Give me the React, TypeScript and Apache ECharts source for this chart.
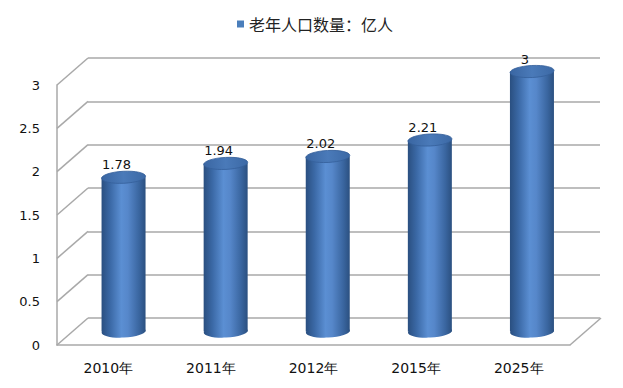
import React, { useEffect, useRef } from "react";
import * as echarts from "echarts";

const categories = ["2010年", "2011年", "2012年", "2015年", "2025年"];
const values = [1.78, 1.94, 2.02, 2.21, 3];
const seriesName = "老年人口数量：亿人";
const tickValues = [0, 0.5, 1, 1.5, 2, 2.5, 3];

const DX = 31;
const DY = -27;
const GRID_COLOR = "#a9a9a9";

export default function App() {
  const ref = useRef<HTMLDivElement>(null);
  useEffect(() => {
    if (!ref.current) return;
    const chart = echarts.init(ref.current, null, { renderer: "svg" });
    const bodyGrad = () =>
      new echarts.graphic.LinearGradient(0, 0, 1, 0, [
        { offset: 0, color: "#2a4f80" },
        { offset: 0.2, color: "#3b69a6" },
        { offset: 0.45, color: "#5b8fd3" },
        { offset: 0.6, color: "#5687ca" },
        { offset: 0.85, color: "#3a66a0" },
        { offset: 1, color: "#2b5080" },
      ]);
    const topGrad = () =>
      new echarts.graphic.LinearGradient(0, 0, 1, 0, [
        { offset: 0, color: "#3a66a2" },
        { offset: 0.5, color: "#4a7ab9" },
        { offset: 1, color: "#3c69a5" },
      ]);
    const option: any = {
      animation: false,
      legend: {
        top: 11,
        left: 232,
        data: [{ name: seriesName, icon: "rect" }],
        itemWidth: 7,
        itemHeight: 7,
        itemGap: 4,
        textStyle: { fontSize: 16, color: "#222", fontFamily: "Noto Sans CJK SC" },
      },
      grid: [
        { left: 57, right: 53, top: 85, bottom: 43 },
        { left: 88, right: 23, top: 58, bottom: 70 },
        { left: 72.5, right: 40, top: 71.5, bottom: 56.5 },
      ],
      xAxis: [
        {
          gridIndex: 0,
          type: "category",
          data: categories,
          axisLine: { show: true, lineStyle: { color: GRID_COLOR, width: 1.5 } },
          axisTick: { show: false },
          axisLabel: { color: "#111", fontSize: 14, margin: 16, fontFamily: "DejaVu Sans" },
        },
        {
          gridIndex: 1,
          type: "category",
          data: categories,
          show: false,
        },
        {
          gridIndex: 2,
          type: "category",
          data: categories,
          show: false,
        },
      ],
      yAxis: [
        {
          gridIndex: 0,
          type: "value",
          min: 0,
          max: 3,
          interval: 0.5,
          axisLine: { show: true, lineStyle: { color: GRID_COLOR, width: 1.5 } },
          axisTick: { show: false },
          splitLine: { show: false },
          axisLabel: { color: "#111", fontSize: 13, margin: 17, fontFamily: "DejaVu Sans" },
        },
        {
          gridIndex: 1,
          type: "value",
          min: 0,
          max: 3,
          interval: 0.5,
          axisLine: { show: false },
          axisTick: { show: false },
          axisLabel: { show: false },
          splitLine: { show: true, lineStyle: { color: GRID_COLOR, width: 1.5 } },
        },
        {
          gridIndex: 2,
          type: "value",
          min: 0,
          max: 3,
          interval: 0.5,
          show: false,
        },
      ],
      series: [
        {
          type: "custom",
          name: "diagonals",
          xAxisIndex: 0,
          yAxisIndex: 0,
          silent: true,
          z: 1,
          data: tickValues.map((v) => [0, v]),
          renderItem: (params: any, api: any) => {
            const cs = params.coordSys;
            const y = api.coord([0, api.value(1)])[1];
            const x0 = cs.x;
            const children: any[] = [
              {
                type: "line",
                shape: { x1: x0, y1: y, x2: x0 + DX, y2: y + DY },
                style: { stroke: GRID_COLOR, lineWidth: 1.5 },
              },
            ];
            if (params.dataIndex === 0) {
              const xr = cs.x + cs.width;
              children.push({
                type: "line",
                shape: { x1: xr, y1: y, x2: xr + DX, y2: y + DY },
                style: { stroke: GRID_COLOR, lineWidth: 1.5 },
              });
            }
            return { type: "group", children };
          },
        },
        {
          type: "custom",
          name: seriesName,
          xAxisIndex: 2,
          yAxisIndex: 2,
          z: 3,
          itemStyle: { color: "#4a7ebb" },
          data: values.map((v, i) => [i, v]),
          renderItem: (params: any, api: any) => {
            const idx = api.value(0);
            const val = api.value(1);
            const top = api.coord([idx, val]);
            const base = api.coord([idx, 0]);
            const rx = 22;
            const ry = 6;
            const cx = top[0];
            const tilt = 0.05;
            return {
              type: "group",
              children: [
                {
                  type: "ellipse",
                  shape: { cx, cy: base[1], rx, ry },
                  rotation: tilt,
                  originX: cx,
                  originY: base[1],
                  style: { fill: bodyGrad() },
                },
                {
                  type: "rect",
                  shape: { x: cx - rx, y: top[1], width: rx * 2, height: base[1] - top[1] },
                  style: { fill: bodyGrad() },
                },
                {
                  type: "ellipse",
                  shape: { cx, cy: top[1], rx, ry },
                  rotation: tilt,
                  originX: cx,
                  originY: top[1],
                  style: { fill: topGrad(), stroke: "#35609a", lineWidth: 0.8 },
                },
                {
                  type: "text",
                  style: {
                    text: String(val),
                    x: cx - 7,
                    y: top[1] - ry,
                    align: "center",
                    verticalAlign: "bottom",
                    fontSize: 13,
                    fontFamily: "DejaVu Sans",
                    fill: "#111",
                  },
                },
              ],
            };
          },
        },
      ],
    };
    chart.setOption(option);
    return () => chart.dispose();
  }, []);
  return <div ref={ref} style={{ width: 623, height: 388, margin: -8 }} />;
}
